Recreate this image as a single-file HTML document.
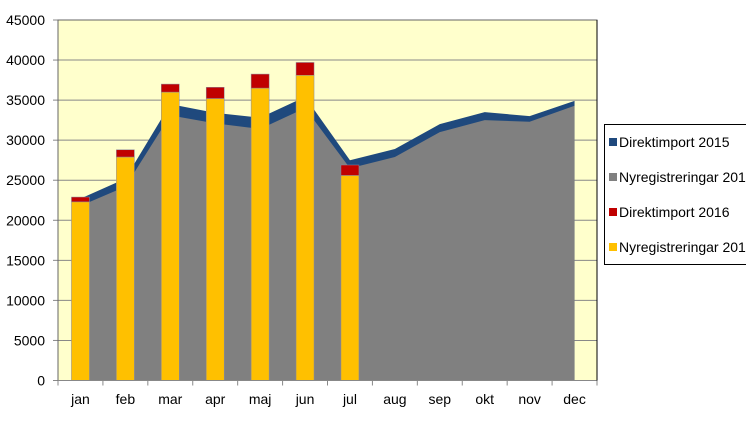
<!DOCTYPE html>
<html><head><meta charset="utf-8"><style>
body{margin:0;background:#fff;width:746px;height:419px;overflow:hidden;font-family:"Liberation Sans",Arial,sans-serif}
svg text{font-family:"Liberation Sans",Arial,sans-serif;font-size:14px;fill:#000}
</style></head><body>
<svg id="chart" width="746" height="419"></svg>
<script>
const categories=["jan","feb","mar","apr","maj","jun","jul","aug","sep","okt","nov","dec"];
const nyreg2015=[21800,24200,33100,32100,31400,34000,26500,27900,31000,32500,32300,34300];
const direkt2015=[900,1000,1400,1300,1400,1400,1000,1000,1000,1000,700,600];
const nyreg2016=[22300,27900,36000,35200,36500,38100,25600];
const direkt2016=[600,900,1000,1400,1750,1600,1300];
const yTicks=[0,5000,10000,15000,20000,25000,30000,35000,40000,45000];
const NS="http://www.w3.org/2000/svg";
const svg=document.getElementById('chart');
const L=58,R=597,T=20,B=380.5,YMAX=45000;
const bw=(R-L)/categories.length;
const x=i=>L+bw*(i+0.5);
const y=v=>B-(v/YMAX)*(B-T);
function mk(tag,attrs,parent){const e=document.createElementNS(NS,tag);for(const k in attrs)e.setAttribute(k,attrs[k]);(parent||svg).appendChild(e);return e;}
const bg=mk('rect',{x:L,y:T,width:R-L,height:B-T,fill:'#ffffcc'});


yTicks.forEach(t=>{
 if(t>0){const g=mk('line',{x1:L,x2:R,y1:y(t),y2:y(t),stroke:'#888','stroke-width':1});
 
 }
 mk('line',{x1:L-5,x2:L,y1:y(t),y2:y(t),stroke:'#888'});
 const tx=mk('text',{x:L-13,y:y(t)+5,'text-anchor':'end'});tx.textContent=t;
 
 
});
// areas
function areaPath(vals){let d='M'+x(0)+','+B;vals.forEach((v,i)=>d+=' L'+x(i)+','+y(v));d+=' L'+x(vals.length-1)+','+B+' Z';return d;}
const tot15=nyreg2015.map((v,i)=>v+direkt2015[i]);
const a1=mk('path',{d:areaPath(tot15),fill:'#1f497d'});


const a2=mk('path',{d:areaPath(nyreg2015),fill:'#808080'});


// bars
const barW=18;
nyreg2016.forEach((v,i)=>{
 const b1=mk('rect',{x:x(i)-barW/2,y:y(v),width:barW,height:B-y(v),fill:'#ffc000',stroke:'#8a8aa0','stroke-width':0.5});
 
 
 const t=v+direkt2016[i];
 const b2=mk('rect',{x:x(i)-barW/2,y:y(t),width:barW,height:y(v)-y(t),fill:'#c00000',stroke:'#8a8aa0','stroke-width':0.5});
 
 
});
// axes
mk('rect',{x:L,y:T,width:R-L,height:B-T,fill:'none',stroke:'#666','stroke-width':1});
mk('line',{x1:L,x2:R,y1:B,y2:B,stroke:'#888'});
mk('line',{x1:R,x2:R,y1:T,y2:B,stroke:'#000'});
categories.forEach((c,i)=>{
 mk('line',{x1:L+bw*i,x2:L+bw*i,y1:B,y2:B+5,stroke:'#888'});
 const tx=mk('text',{x:x(i),y:404,'text-anchor':'middle'});tx.textContent=c;
 
 
});
mk('line',{x1:R,x2:R,y1:B,y2:B+5,stroke:'#888'});
// legend
const lg=mk('g',{});


mk('rect',{x:604.5,y:124.5,width:150,height:140,fill:'#fff',stroke:'#000'},lg);
const legItems=[["Direktimport 2015","#1f497d"],["Nyregistreringar 2015","#808080"],["Direktimport 2016","#c00000"],["Nyregistreringar 2016","#ffc000"]];
legItems.forEach((it,i)=>{
 const cy=142+i*35;
 const g=mk('g',{},lg);
 
 
 mk('rect',{x:609,y:cy-4,width:8,height:8,fill:it[1]},g);
 const t=mk('text',{x:619,y:cy+5},g);t.textContent=it[0];
});
</script>
</body></html>
